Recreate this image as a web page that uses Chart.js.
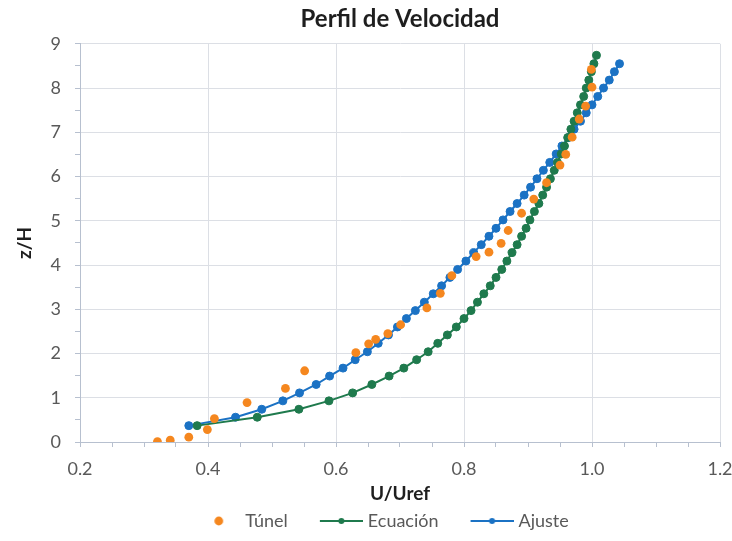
<!DOCTYPE html>
<html><head><meta charset="utf-8">
<script src="https://cdn.jsdelivr.net/npm/chart.js@4.4.1/dist/chart.umd.min.js"></script>
<style>html,body{margin:0;padding:0;background:#fff}#wrap{width:732px;height:541px}</style>
</head><body><div id="wrap"><canvas id="c" width="732" height="541"></canvas></div>
<script>
// ---- data ----
const tunelU = [0.321,0.341,0.370,0.399,0.410,0.461,0.521,0.551,0.631,0.651,0.662,0.681,0.701,0.742,0.763,0.781,0.819,0.839,0.858,0.869,0.890,0.909,0.929,0.950,0.959,0.969,0.980,0.990,1.000,0.999];
const tunelZ = [0.01,0.04,0.11,0.28,0.53,0.89,1.21,1.61,2.02,2.22,2.32,2.45,2.65,3.03,3.36,3.76,4.19,4.29,4.49,4.78,5.17,5.49,5.86,6.26,6.50,6.89,7.30,7.59,8.02,8.42];
const ecuacionZ = [0.37,0.56,0.74,0.93,1.11,1.30,1.49,1.67,1.86,2.04,2.23,2.42,2.60,2.79,2.97,3.16,3.35,3.53,3.72,3.90,4.09,4.28,4.46,4.65,4.83,5.02,5.21,5.39,5.58,5.76,5.95,6.14,6.32,6.51,6.69,6.88,7.07,7.25,7.44,7.62,7.81,8.00,8.18,8.37,8.55,8.74];
const ecuacionU = [0.383,0.477,0.542,0.589,0.626,0.656,0.683,0.706,0.726,0.744,0.759,0.774,0.788,0.800,0.811,0.821,0.831,0.841,0.850,0.859,0.867,0.875,0.883,0.890,0.897,0.903,0.910,0.917,0.923,0.929,0.935,0.941,0.946,0.952,0.957,0.962,0.967,0.972,0.977,0.982,0.987,0.991,0.995,0.999,1.003,1.007];
const ajusteZ = [0.37,0.56,0.74,0.93,1.11,1.30,1.49,1.67,1.86,2.04,2.23,2.42,2.60,2.79,2.97,3.16,3.35,3.53,3.72,3.90,4.09,4.28,4.46,4.65,4.83,5.02,5.21,5.39,5.58,5.76,5.95,6.14,6.32,6.51,6.69,6.88,7.07,7.25,7.44,7.62,7.81,8.00,8.18,8.37,8.55];
const ajusteU = [0.370,0.443,0.484,0.517,0.543,0.569,0.590,0.611,0.630,0.649,0.666,0.682,0.696,0.710,0.724,0.738,0.752,0.765,0.778,0.790,0.803,0.815,0.827,0.839,0.850,0.861,0.872,0.883,0.894,0.904,0.914,0.924,0.934,0.944,0.953,0.963,0.972,0.982,0.991,1.000,1.009,1.018,1.027,1.035,1.043];
const seriesNames = ['Túnel','Ecuación','Ajuste'];
const xTickLabels = ['0.2','0.4','0.6','0.8','1.0','1.2'];
const yTickLabels = ['0','1','2','3','4','5','6','7','8','9'];

const COL_T = '#F5871F', COL_E = '#1F7A4D', COL_A = '#1B72C4';
const FONT = 'Lato, "Liberation Sans", sans-serif';
const AXIS = '#b7c0cf', GRID = '#dcdfe5', TXT = '#595959', DARK = '#1e1e1e';

function pts(xs, ys){ return xs.map((v,i)=>({x:v, y:ys[i]})); }
function near(v, step){ return Math.abs(v/step - Math.round(v/step)) < 1e-6; }

// legend key images: box width 67, image 75 wide (centred on box) so the key can end 4px past the box
function icon(color, line){
  const c = document.createElement('canvas'); c.width = 75; c.height = 12;
  const g = c.getContext('2d');
  if (line){
    g.strokeStyle = color; g.lineWidth = 2;
    g.beginPath(); g.moveTo(32,6); g.lineTo(75,6); g.stroke();
    g.fillStyle = color; g.beginPath(); g.arc(53.5,6,3,0,Math.PI*2); g.fill();
  } else {
    g.fillStyle = color; g.beginPath(); g.arc(53.5,6,4.4,0,Math.PI*2); g.fill();
  }
  return c;
}
const icons = [icon(COL_T,false), icon(COL_E,true), icon(COL_A,true)];

new Chart(document.getElementById('c'), {
  type: 'scatter',
  data: { datasets: [
    { label: seriesNames[0], data: pts(tunelU, tunelZ), showLine:false,
      pointRadius:4.4, pointBorderWidth:0, backgroundColor:COL_T, borderColor:COL_T },
    { label: seriesNames[1], data: pts(ecuacionU, ecuacionZ), showLine:true, tension:0,
      borderColor:COL_E, borderWidth:2, pointRadius:4, pointBorderWidth:1,
      pointBackgroundColor:COL_E, pointBorderColor:COL_E },
    { label: seriesNames[2], data: pts(ajusteU, ajusteZ), showLine:true, tension:0,
      borderColor:COL_A, borderWidth:2, pointRadius:4, pointBorderWidth:1,
      pointBackgroundColor:COL_A, pointBorderColor:COL_A }
  ]},
  options: {
    responsive:false, animation:false, devicePixelRatio:1,
    layout:{ padding:{ left:6, right:0, top:0, bottom:1 } },
    plugins:{
      tooltip:{enabled:false},
      title:{ display:true, text:'Perfil de Velocidad', fullSize:false, color:DARK,
        font:{family:FONT, size:24, weight:'bold', lineHeight:1.2}, padding:{top:5,bottom:10} },
      legend:{ position:'bottom', align:'center',
        labels:{ usePointStyle:true, pointStyleWidth:67, padding:4, color:TXT,
          font:{family:FONT, size:18},
          generateLabels: chart => chart.data.datasets.map((ds,i)=>({
            text: ds.label, pointStyle: icons[i], fillStyle:'rgba(0,0,0,0)',
            strokeStyle:'rgba(0,0,0,0)', lineWidth:0, hidden:false, datasetIndex:i, fontColor:TXT }))
        } }
    },
    scales:{
      x:{ type:'linear', position:'bottom', min:0.2, max:1.2,
        afterFit: s => { s.height = 66; s.paddingLeft = 0; s.paddingRight = 12; },
        ticks:{ stepSize:0.05, autoSkip:false, maxRotation:0, padding:11, color:TXT,
          font:{family:FONT, size:18},
          callback: v => { if(!near(v,0.2)) return ''; const i = Math.round((v-0.2)/0.2); return xTickLabels[i]; } },
        grid:{ color: ctx => (ctx.tick && near(ctx.tick.value,0.2)) ? GRID : 'rgba(0,0,0,0)',
          tickColor:AXIS, tickLength:5, lineWidth:1 },
        border:{ color:AXIS, width:1 },
        title:{ display:true, text:'U/Uref', color:DARK, font:{family:FONT, size:19, weight:'bold', lineHeight:1.2}, padding:{top:0,bottom:3} }
      },
      y:{ type:'linear', min:0, max:9,
        afterFit: s => { s.width = 74; },
        ticks:{ stepSize:0.5, autoSkip:false, padding:14, color:TXT, font:{family:FONT, size:18},
          callback: v => near(v,1) ? yTickLabels[Math.round(v)] : '' },
        grid:{ color: ctx => (ctx.tick && near(ctx.tick.value,1)) ? GRID : 'rgba(0,0,0,0)',
          tickColor:AXIS, tickLength:5, lineWidth:1 },
        border:{ color:AXIS, width:1 },
        title:{ display:true, text:'z/H', color:DARK, font:{family:FONT, size:19, weight:'bold', lineHeight:1.2}, padding:{top:7,bottom:0} }
      }
    }
  }
});
</script></body></html>
